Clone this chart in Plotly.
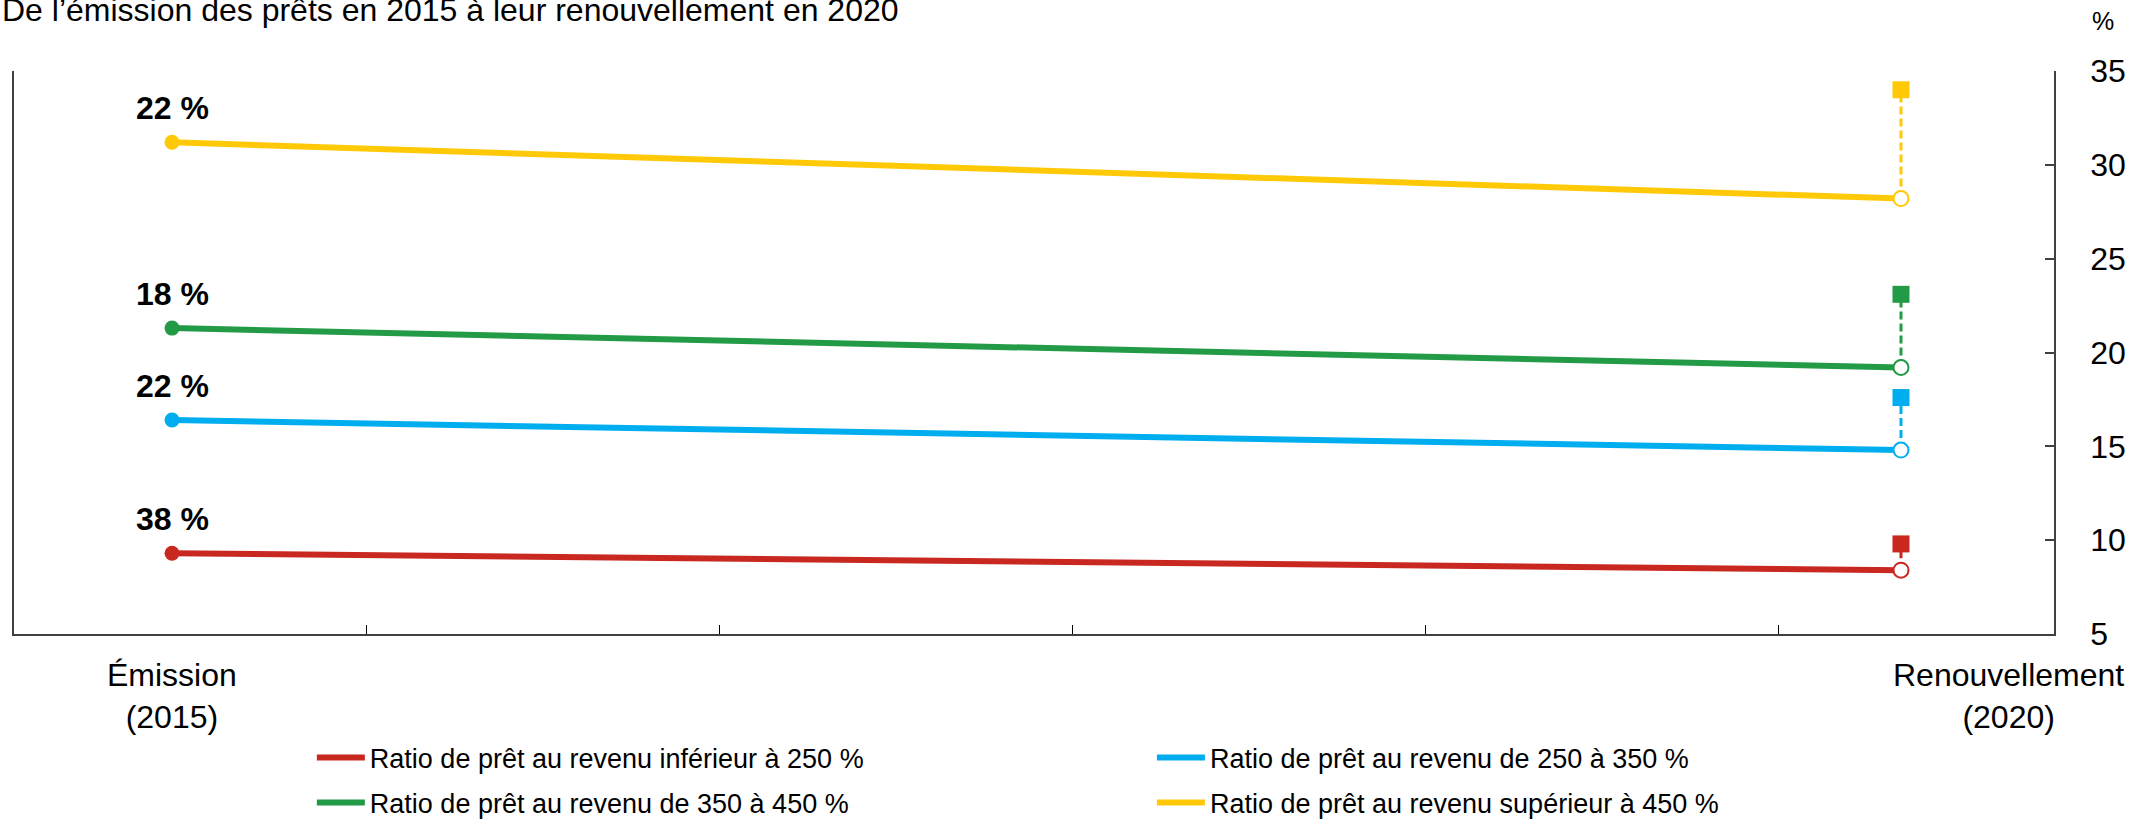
import plotly.graph_objects as go

# ---- data ----
categories = ["Émission<br>(2015)", "Renouvellement<br>(2020)"]
cat_x = [0, 1]
series_names = [
    "Ratio de prêt au revenu inférieur à 250 %",
    "Ratio de prêt au revenu de 250 à 350 %",
    "Ratio de prêt au revenu de 350 à 450 %",
    "Ratio de prêt au revenu supérieur à 450 %",
]
emission = [9.3, 16.4, 21.3, 31.2]
renouvellement = [8.4, 14.8, 19.2, 28.2]
renouvellement_carre = [9.8, 17.6, 23.1, 34.0]
emission_labels = ["38 %", "22 %", "18 %", "22 %"]
y_ticks = [5, 10, 15, 20, 25, 30, 35]
title_text = "De l’émission des prêts en 2015 à leur renouvellement en 2020"
unit_text = "%"

# ---- style ----
colors = ["#C8281F", "#00AEEF", "#239A45", "#FFC908"]
legend_ids = ["legend", "legend2", "legend3", "legend4"]
legend_pos = [(0.146, -0.2202), (0.5578, -0.2202), (0.146, -0.3002), (0.5578, -0.3002)]
FONT = "Liberation Sans, Arial, sans-serif"
FS = 32

fig = go.Figure()

for i in range(4):
    fig.add_trace(go.Scatter(
        x=cat_x, y=[emission[i], renouvellement[i]], mode="lines",
        line=dict(color=colors[i], width=6), name=series_names[i],
        legend=legend_ids[i], showlegend=True, hoverinfo="skip"))

for i in range(4):
    fig.add_trace(go.Scatter(
        x=[cat_x[1], cat_x[1]], y=[renouvellement[i], renouvellement_carre[i]],
        mode="lines", line=dict(color=colors[i], width=3, dash="8px,4px"),
        showlegend=False, hoverinfo="skip"))
    fig.add_trace(go.Scatter(
        x=[cat_x[1]], y=[renouvellement_carre[i]], mode="markers",
        marker=dict(symbol="square", size=17, color=colors[i]),
        showlegend=False, hoverinfo="skip"))
    fig.add_trace(go.Scatter(
        x=[cat_x[0]], y=[emission[i]], mode="markers",
        marker=dict(symbol="circle", size=15, color=colors[i]),
        showlegend=False, hoverinfo="skip"))
    fig.add_trace(go.Scatter(
        x=[cat_x[1]], y=[renouvellement[i]], mode="markers",
        marker=dict(symbol="circle", size=15, color="white",
                    line=dict(color=colors[i], width=2)),
        showlegend=False, hoverinfo="skip"))
    fig.add_annotation(x=cat_x[0], y=emission[i], text="<b>%s</b>" % emission_labels[i],
                       showarrow=False, yshift=34,
                       font=dict(family=FONT, size=FS, color="black"))

# category labels below axis
cat_label_x = [cat_x[0], cat_x[1] + 0.062]
for cx, lab in zip(cat_label_x, categories):
    fig.add_annotation(x=cx, xref="x", y=-0.037, yref="paper", yanchor="top",
                       text=lab, showarrow=False,
                       font=dict(family=FONT, size=FS, color="black"))

fig.add_annotation(x=-0.0069, xref="paper", xanchor="left", y=1.108, yref="paper",
                   yanchor="middle", text=title_text, showarrow=False,
                   font=dict(family=FONT, size=FS, color="black"))
fig.add_annotation(x=1.0304, xref="paper", y=1.089, yref="paper", yanchor="middle",
                   text=unit_text, showarrow=False,
                   font=dict(family=FONT, size=25, color="black"))

x_ticks = [0.1122 + 0.2043 * k for k in range(5)]

legend_style = dict(xanchor="left", yanchor="middle",
                    font=dict(family=FONT, size=27, color="black"),
                    bgcolor="rgba(0,0,0,0)", itemwidth=48)

layout_legends = {}
for lid, (lx, ly) in zip(legend_ids, legend_pos):
    layout_legends[lid] = dict(x=lx, y=ly, **legend_style)

fig.update_layout(
    width=2152, height=825, autosize=False,
    margin=dict(l=14, r=98, t=71, b=191, autoexpand=False),
    plot_bgcolor="white", paper_bgcolor="white",
    font=dict(family=FONT, size=FS, color="black"),
    xaxis=dict(range=[-0.0914, 1.0885], showgrid=False, zeroline=False,
               showline=True, linecolor="#404040", linewidth=1.5,
               ticks="inside", ticklen=9, tickcolor="black", tickwidth=1,
               tickvals=x_ticks, showticklabels=False, fixedrange=True),
    yaxis=dict(range=[5, 35], side="right", showgrid=False, zeroline=False,
               showline=True, mirror=True, linecolor="#404040", linewidth=1.5,
               ticks="inside", ticklen=9, tickcolor="#404040", tickwidth=1.5,
               tickvals=y_ticks, ticklabelstandoff=28,
               tickfont=dict(family=FONT, size=FS, color="black")),
    showlegend=True,
    **layout_legends,
)

fig.write_html("out.html", config={"displayModeBar": False},
               post_script="document.body.style.margin='0px';")
